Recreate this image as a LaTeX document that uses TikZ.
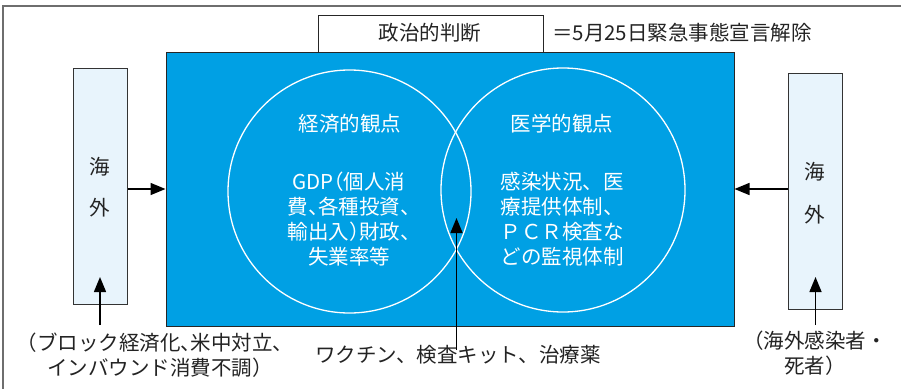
\documentclass[tikz,border=0pt]{standalone}
\usepackage{fontspec}
\setmainfont{Noto Sans CJK JP}
\newfontfamily\jph[RawFeature=+halt]{Noto Sans CJK JP}
\usetikzlibrary{arrows.meta}
\definecolor{mblue}{RGB}{0,160,228}
\definecolor{lblue}{RGB}{232,244,252}
\definecolor{fgray}{RGB}{110,110,110}
\definecolor{tgray}{RGB}{35,35,35}
\begin{document}
\begin{tikzpicture}[x=1pt,y=-1pt,
  txt/.style={inner sep=0pt, text=tgray, font=\fontsize{20.5}{25}\selectfont, align=center},
  wtxt/.style={inner sep=0pt, text=white, font=\fontsize{20.5}{25}\selectfont, align=center},
  kbox/.style={draw=black!80, fill=lblue, line width=1pt, minimum width=54pt, minimum height=236pt, inner sep=0pt},
  arr/.style={-{Triangle[length=15pt,width=12pt]}, line width=1.5pt, black},
  ring/.style={draw=white, line width=1.3pt, circle, inner sep=0pt}
]
\useasboundingbox (0,0) rectangle (901,388);
\draw[fgray, line width=1.3pt] (3,6) rectangle (930,430);
% central blue field
\node[draw=black!85, fill=mblue, line width=1pt, minimum width=568pt, minimum height=274pt, inner sep=0pt] (blue) at (450,189) {};
% political judgement box
\node[draw=black!85, fill=white, line width=1pt, minimum width=225pt, minimum height=37pt, inner sep=0pt] (seiji) at (430.5,33.5) {};
\node[txt] (seijit) at (430,33) {政治的判断};
\node[txt, anchor=west] (eq) at (552,33) {＝5月25日緊急事態宣言解除};
% circles
\node[ring, minimum size=243pt] (ceco) at (349.5,191.5) {};
\node[ring, minimum size=244pt] (cmed) at (563,190) {};
\node[wtxt] (ecot) at (350,124) {経済的観点};
\node[wtxt] (medt) at (562,124) {医学的観点};
\node[wtxt, font=\jph\fontsize{20.5}{25}\selectfont] (ecob) at (349,219) {GDP（個人消\\費、各種投資、\\輸出入）財政、\\失業率等};
\node[wtxt] (medb) at (562,219) {感染状況、医\\療提供体制、\\ＰＣＲ検査な\\どの監視体制};
% overseas boxes
\node[kbox] (lbox) at (100,186) {};
\node[txt] (lkai) at (100,167) {海};
\node[txt] (lgai) at (100,208) {外};
\node[kbox] (rbox) at (815,191) {};
\node[txt] (rkai) at (815,172) {海};
\node[txt] (rgai) at (815,215) {外};
% texts below
\node[txt, font=\jph\fontsize{20.5}{25}\selectfont] (ltext) at (155,355.5) {（ブロック経済化、米中対立、\\インバウンド消費不調）};
\node[txt] (rtext) at (815,353.5) {（海外感染者・\\死者）};
\node[txt] (mtext) at (458,355) {ワクチン、検査キット、治療薬};
% arrows
\draw[arr] (lbox.east |- blue.west) -- (blue.west);
\draw[arr] (rbox.west |- blue.east) -- (blue.east);
\coordinate (lfrom) at (100,325);
\coordinate (lto) at (100,277);
\coordinate (rfrom) at (815.5,325);
\coordinate (rto) at (815.5,277);
\coordinate (mfrom) at (456.5,350);
\coordinate (mto) at (456.5,218);
\draw[arr] (lfrom) -- (lto);
\draw[arr] (rfrom) -- (rto);
\draw[arr] (mfrom) -- (mto);
\end{tikzpicture}
\end{document}
